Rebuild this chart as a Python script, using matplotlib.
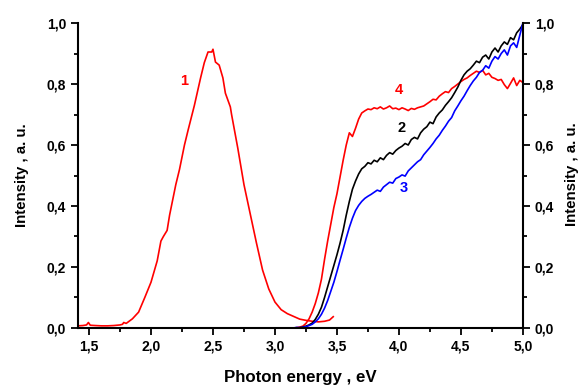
import matplotlib
matplotlib.use("Agg")
import matplotlib.pyplot as plt
from matplotlib.ticker import MultipleLocator, FuncFormatter

plt.rcParams['font.family'] = ['Liberation Sans', 'DejaVu Sans']

# Curve 1 (red, PL band)
e1 = [1.41,1.45,1.48,1.495,1.51,1.55,1.60,1.65,1.70,1.75,1.77,1.78,1.80,1.85,1.90,1.95,2.00,2.05,2.08,2.10,2.13,2.15,2.20,2.23,2.27,2.30,2.35,2.40,2.43,2.46,2.49,2.50,2.52,2.55,2.58,2.60,2.64,2.65,2.70,2.75,2.80,2.85,2.90,2.95,3.00,3.05,3.10,3.15,3.20,3.25,3.30,3.35,3.40,3.44,3.47]
i1 = [0.007,0.008,0.010,0.018,0.009,0.008,0.007,0.007,0.008,0.010,0.012,0.018,0.015,0.030,0.052,0.100,0.150,0.220,0.285,0.300,0.320,0.370,0.470,0.520,0.600,0.650,0.730,0.820,0.870,0.905,0.905,0.914,0.872,0.862,0.820,0.770,0.725,0.700,0.590,0.470,0.375,0.280,0.190,0.128,0.085,0.060,0.047,0.038,0.029,0.025,0.022,0.020,0.022,0.026,0.037]

# Shared energy grid for curves 2, 3, 4
e = [3.150,3.175,3.200,3.225,3.250,3.275,3.300,3.325,3.350,3.375,
     3.400,3.425,3.450,3.475,3.500,3.525,3.550,3.575,3.600,3.625,
     3.650,3.675,3.700,3.725,3.750,3.775,3.800,3.825,3.850,3.875,
     3.900,3.925,3.950,3.975,4.000,4.025,4.050,4.075,4.100,4.125,
     4.150,4.175,4.200,4.225,4.250,4.275,4.300,4.325,4.350,4.375,
     4.400,4.425,4.450,4.475,4.500,4.525,4.550,4.575,4.600,4.625,
     4.650,4.675,4.700,4.725,4.750,4.775,4.800,4.825,4.850,4.875,
     4.900,4.925,4.950,4.975,5.000]

i4 = [0.000,0.001,0.003,0.006,0.015,0.030,0.052,0.080,0.115,0.160,
      0.225,0.285,0.340,0.395,0.440,0.495,0.550,0.600,0.640,0.628,
      0.655,0.685,0.705,0.712,0.718,0.716,0.722,0.719,0.725,0.718,
      0.722,0.728,0.719,0.721,0.716,0.722,0.718,0.713,0.720,0.717,
      0.722,0.725,0.728,0.735,0.742,0.750,0.748,0.760,0.768,0.775,
      0.772,0.785,0.792,0.800,0.808,0.815,0.820,0.828,0.835,0.842,
      0.838,0.845,0.830,0.835,0.822,0.818,0.812,0.815,0.798,0.785,
      0.802,0.820,0.795,0.812,0.805]

i2 = [0.000,0.000,0.001,0.003,0.006,0.010,0.016,0.028,0.045,0.068,
      0.100,0.135,0.170,0.205,0.240,0.278,0.320,0.370,0.415,0.455,
      0.482,0.505,0.522,0.530,0.542,0.538,0.550,0.545,0.558,0.552,
      0.566,0.575,0.570,0.582,0.590,0.596,0.605,0.600,0.618,0.625,
      0.620,0.640,0.652,0.660,0.675,0.670,0.692,0.705,0.715,0.730,
      0.742,0.755,0.772,0.790,0.812,0.830,0.842,0.850,0.862,0.875,
      0.870,0.888,0.895,0.882,0.905,0.918,0.905,0.925,0.938,0.930,
      0.952,0.945,0.968,0.980,0.995]

i3 = [0.000,0.002,0.001,0.002,0.004,0.008,0.012,0.020,0.030,0.045,
      0.065,0.090,0.120,0.150,0.185,0.222,0.258,0.295,0.330,0.360,
      0.385,0.402,0.415,0.425,0.432,0.438,0.445,0.452,0.448,0.462,
      0.470,0.478,0.475,0.490,0.495,0.502,0.498,0.515,0.525,0.535,
      0.545,0.552,0.568,0.580,0.592,0.605,0.620,0.632,0.648,0.662,
      0.678,0.690,0.712,0.728,0.745,0.760,0.778,0.795,0.810,0.822,
      0.838,0.845,0.860,0.852,0.875,0.890,0.882,0.900,0.912,0.895,
      0.925,0.935,0.920,0.960,1.000]

labels = ["1", "2", "3", "4"]
label_pos = [(2.27, 0.81), (4.02, 0.655), (4.04, 0.46), (4.0, 0.78)]
label_col = ["#ff0000", "#000000", "#0000ff", "#ff0000"]

fig = plt.figure(figsize=(5.81, 3.87), dpi=100)
ax = fig.add_axes([0.134, 0.1525, 0.766, 0.788])

ax.plot(e1, i1, color="#ff0000", lw=1.2)
ax.plot(e, i4, color="#ff0000", lw=1.2)
ax.plot(e, i2, color="#000000", lw=1.2)
ax.plot(e, i3, color="#0000ff", lw=1.2)

for t, (x, y), c in zip(labels, label_pos, label_col):
    ax.text(x, y, t, color=c, fontsize=10.5, fontweight="bold", ha="center", va="center")

ax.set_xlim(1.41, 5.0)
ax.set_ylim(0, 1.0)

fmt = FuncFormatter(lambda v, p: f"{v:.1f}".replace(".", ","))
ax.xaxis.set_major_locator(MultipleLocator(0.5))
ax.xaxis.set_minor_locator(MultipleLocator(0.25))
ax.yaxis.set_major_locator(MultipleLocator(0.2))
ax.yaxis.set_minor_locator(MultipleLocator(0.1))
ax.xaxis.set_major_formatter(fmt)
ax.yaxis.set_major_formatter(fmt)

ax.spines['top'].set_visible(False)
for s in ['left', 'right', 'bottom']:
    ax.spines[s].set_linewidth(1.5)

ax.tick_params(which='both', direction='out', width=1.3, labelsize=10,
               left=True, right=True, labelleft=True, labelright=True)
ax.tick_params(which='major', length=5)
ax.tick_params(which='minor', length=3)
for lab in ax.get_xticklabels() + ax.get_yticklabels():
    lab.set_fontweight('bold')

ax.set_xlabel("Photon energy , eV", fontsize=12.2, fontweight="bold", labelpad=12)
ax.set_ylabel("Intensity , a. u.", fontsize=10.8, fontweight="bold", labelpad=13)
fig.text(0.985, 0.55, "Intensity , a. u.", rotation=90, fontsize=10.8,
         fontweight="bold", ha="center", va="center")

fig.savefig("out.png", dpi=100)
